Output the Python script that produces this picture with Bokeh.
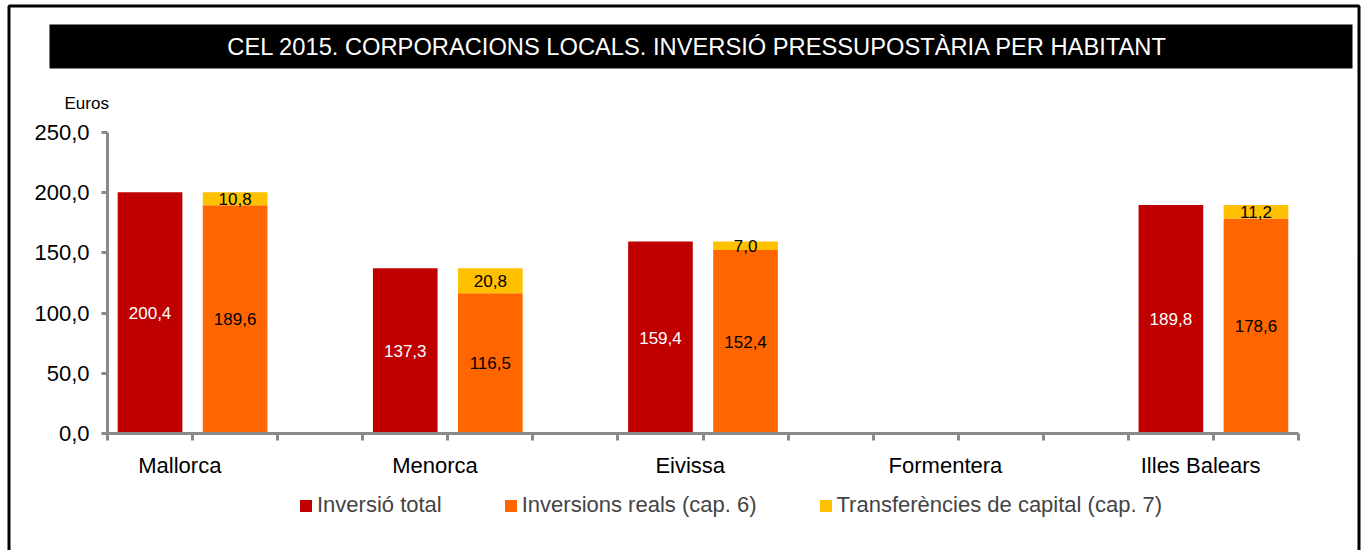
import math
from bokeh.plotting import figure
from bokeh.models import (Range1d, FixedTicker, Legend, LegendItem, ColumnDataSource,
                          BoxAnnotation, Label)
from bokeh.core.properties import value
from bokeh.embed import file_html
from bokeh.resources import INLINE

FONT = "Liberation Sans"
GRAY = "#8a8a8a"

title_text = "CEL 2015. CORPORACIONS LOCALS. INVERSIÓ  PRESSUPOSTÀRIA PER HABITANT"
y_unit = "Euros"
islands = ["Mallorca", "Menorca", "Eivissa", "Formentera", "Illes Balears"]
inversio_total = [200.4, 137.3, 159.4, float("nan"), 189.8]
inversions_reals = [189.6, 116.5, 152.4, float("nan"), 178.6]
transferencies = [10.8, 20.8, 7.0, float("nan"), 11.2]
series_names = ["Inversió total", "Inversions reals (cap. 6)", "Transferències de capital (cap. 7)"]
series_colors = ["#C00000", "#FF6600", "#FFC000"]
y_ticks = [0, 50, 100, 150, 200, 250]
y_tick_labels = ["0,0", "50,0", "100,0", "150,0", "200,0", "250,0"]
y_max = 250


def fmt(v):
    return f"{v:.1f}".replace(".", ",")


n = len(islands)
n_slots = 3 * n - 1

tot = dict(x=[], top=[], mid=[], lab=[])
rea = dict(x=[], top=[], mid=[], lab=[])
tra = dict(x=[], bottom=[], top=[], mid=[], lab=[])
for i in range(n):
    t, r, c = inversio_total[i], inversions_reals[i], transferencies[i]
    if not math.isnan(t):
        tot["x"].append(3 * i + 0.5); tot["top"].append(t); tot["mid"].append(t / 2); tot["lab"].append(fmt(t))
    if not math.isnan(r):
        rea["x"].append(3 * i + 1.5); rea["top"].append(r); rea["mid"].append(r / 2); rea["lab"].append(fmt(r))
    if not math.isnan(c):
        tra["x"].append(3 * i + 1.5); tra["bottom"].append(r); tra["top"].append(r + c)
        tra["mid"].append(r + c / 2); tra["lab"].append(fmt(c))

# ---- layout (pixels on the canvas; the frame covers the whole canvas)
CW, CH = 1366, 550
AX_L, AX_R = 107, 1298      # x-axis extent
AX_B, AX_T = 433, 132       # y = 0 and y = y_max
px_x = (AX_R - AX_L) / n_slots
px_y = (AX_B - AX_T) / y_max
x_range = Range1d(-AX_L / px_x, n_slots + (CW - AX_R) / px_x)
y_range = Range1d(-(CH - AX_B) / px_y, y_max + AX_T / px_y)

p = figure(width=CW, height=CH, x_range=x_range, y_range=y_range,
           output_backend="svg", toolbar_location=None, title_location=None,
           min_border=0, background_fill_color="white", border_fill_color="white",
           outline_line_color=None)
p.xgrid.visible = False
p.ygrid.visible = False

W = 0.76
r1 = p.vbar(x="x", top="top", bottom=0, width=W, source=ColumnDataSource(tot),
            fill_color=series_colors[0], line_color=None)
r2 = p.vbar(x="x", top="top", bottom=0, width=W, source=ColumnDataSource(rea),
            fill_color=series_colors[1], line_color=None)
r3 = p.vbar(x="x", top="top", bottom="bottom", width=W, source=ColumnDataSource(tra),
            fill_color=series_colors[2], line_color=None)

LBL = "17px"
p.text(x="x", y="mid", text="lab", source=ColumnDataSource(tot), text_color="white",
       text_align="center", text_baseline="middle", text_font=value(FONT), text_font_size=LBL)
p.text(x="x", y="mid", text="lab", source=ColumnDataSource(rea), text_color="black",
       text_align="center", text_baseline="middle", text_font=value(FONT), text_font_size=LBL)
p.text(x="x", y="mid", text="lab", source=ColumnDataSource(tra), text_color="black",
       text_align="center", text_baseline="middle", text_font=value(FONT), text_font_size=LBL)

# y axis
ya = p.yaxis[0]
ya.fixed_location = 0
ya.bounds = (0, y_max)
ya.ticker = FixedTicker(ticks=y_ticks)
ya.major_label_overrides = {t: l for t, l in zip(y_ticks, y_tick_labels)}
ya.axis_line_color = GRAY
ya.axis_line_width = 3
ya.major_tick_line_color = GRAY
ya.major_tick_line_width = 3
ya.major_tick_out = 6
ya.major_tick_in = 0
ya.minor_tick_out = 0
ya.minor_tick_in = 0
ya.major_label_standoff = 12
ya.major_label_text_font = FONT
ya.major_label_text_font_size = "22px"
ya.major_label_text_color = "black"

# x axis
label_pos = [3 * i + 0.85 for i in range(n)]
boundaries = list(range(0, n_slots + 1))
xa = p.xaxis[0]
xa.fixed_location = 0
xa.bounds = (0, n_slots)
xa.ticker = FixedTicker(ticks=label_pos, minor_ticks=boundaries)
xa.major_label_overrides = {pos: name for pos, name in zip(label_pos, islands)}
xa.axis_line_color = GRAY
xa.axis_line_width = 3
xa.major_tick_out = 0
xa.major_tick_in = 0
xa.minor_tick_out = 7
xa.minor_tick_in = 0
xa.minor_tick_line_color = GRAY
xa.minor_tick_line_width = 3
xa.major_label_standoff = 12
xa.major_label_text_font = FONT
xa.major_label_text_font_size = "22px"
xa.major_label_text_color = "black"

# ---- decorations, in screen units (x from the left, y from the bottom of the frame)
border = BoxAnnotation(left=8.5, right=1358.5, bottom=-10, top=CH - 5.5,
                       left_units="screen", right_units="screen",
                       bottom_units="screen", top_units="screen",
                       fill_alpha=0, line_color="black", line_width=3, line_alpha=1.0)
p.add_layout(border)
bar = BoxAnnotation(left=49, right=1352, bottom=CH - 68, top=CH - 24,
                    left_units="screen", right_units="screen",
                    bottom_units="screen", top_units="screen",
                    fill_color="black", fill_alpha=1.0, line_color=None)
p.add_layout(bar)
p.add_layout(Label(x=700.5, y=CH - 46, x_units="screen", y_units="screen", text=title_text,
                   text_color="white", text_align="center", text_baseline="middle",
                   text_font=FONT, text_font_size="23.7px"))
p.add_layout(Label(x=64, y=CH - 103, x_units="screen", y_units="screen", text=y_unit,
                   text_color="black", text_align="left", text_baseline="alphabetic",
                   text_font=FONT, text_font_size="17px"))

legend = Legend(items=[LegendItem(label=series_names[0], renderers=[r1]),
                       LegendItem(label=series_names[1], renderers=[r2]),
                       LegendItem(label=series_names[2], renderers=[r3])],
                orientation="horizontal", location=(298, 32), glyph_width=15, glyph_height=15,
                label_standoff=4, spacing=61, padding=0, margin=0, border_line_color=None,
                background_fill_alpha=0, label_text_font=FONT, label_text_font_size="22px")
p.add_layout(legend)

open("out.html", "w").write(file_html(p, INLINE))
